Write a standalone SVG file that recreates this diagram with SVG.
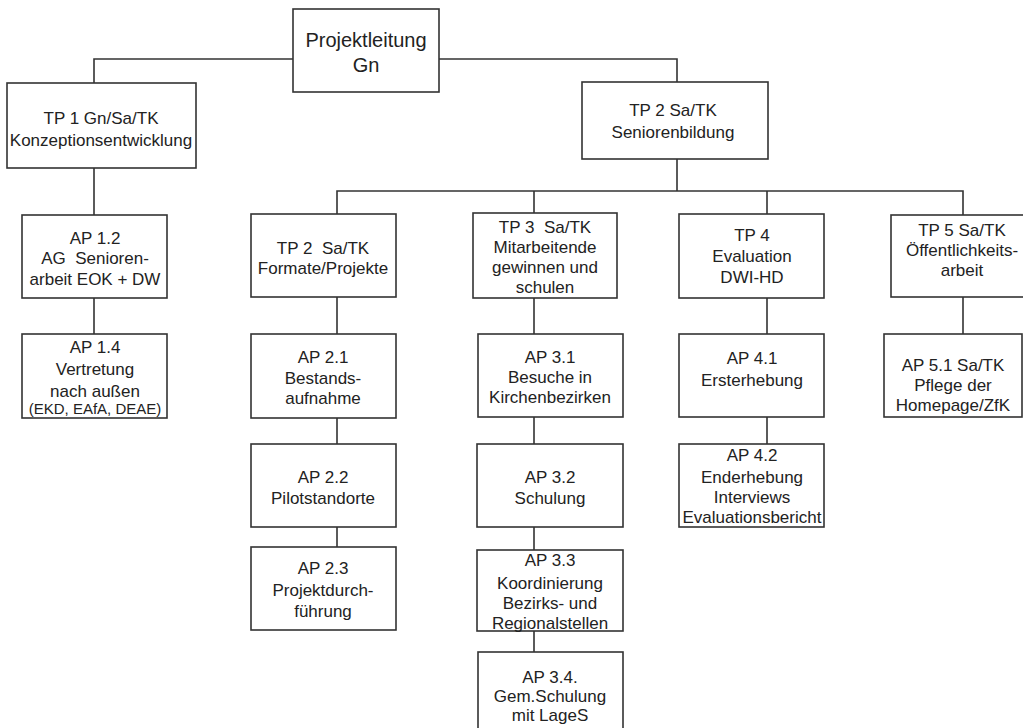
<svg xmlns="http://www.w3.org/2000/svg" width="1023" height="728" viewBox="0 0 1023 728">
<style>
.box{fill:#fff;stroke:#333;stroke-width:1.6}
.con{fill:none;stroke:#333;stroke-width:1.6}
text{font-family:"Liberation Sans",Arial,sans-serif;font-size:17px;fill:#222;text-anchor:middle}
.big{font-size:20px}
.sm{font-size:15px}
</style>
<rect width="1023" height="728" fill="#fff"/>
<g id="connectors">
<path class="con" d="M94,83V59H293M439,59H677V82"/>
<path class="con" d="M94,168V215M94,298V334"/>
<path class="con" d="M677,159V191M337,214V191H963V215M534,191V213M767,191V214"/>
<path class="con" d="M337,297V334M337,418V444M337,527V547"/>
<path class="con" d="M534,298V334M534,417V444M534,527V550M534,631V652"/>
<path class="con" d="M767,298V334M767,417V444"/>
<path class="con" d="M963,297V334"/>
</g>
<g id="projektleitung"><rect class="box" x="293" y="9" width="146" height="83"/>
<text class="big" x="366" y="47">Projektleitung</text><text class="big" x="366" y="72">Gn</text></g>
<g id="tp1"><rect class="box" x="7" y="83" width="189" height="85"/>
<text x="101" y="124">TP 1 Gn/Sa/TK</text><text x="101" y="146">Konzeptionsentwicklung</text></g>
<g id="tp2"><rect class="box" x="582" y="82" width="186" height="77"/>
<text x="673" y="116">TP 2 Sa/TK</text><text x="673" y="138">Seniorenbildung</text></g>
<g id="ap12"><rect class="box" x="22" y="215" width="145" height="83"/>
<text x="95" y="244">AP 1.2</text><text x="95" y="264" xml:space="preserve">AG  Senioren-</text><text x="95" y="285">arbeit EOK + DW</text></g>
<g id="ap14"><rect class="box" x="22" y="334" width="145" height="84"/>
<text x="95" y="353">AP 1.4</text><text x="95" y="375">Vertretung</text><text x="95" y="397">nach außen</text><text class="sm" x="95" y="414">(EKD, EAfA, DEAE)</text></g>
<g id="tp2f"><rect class="box" x="251" y="214" width="145" height="83"/>
<text x="323" y="254" xml:space="preserve">TP 2  Sa/TK</text><text x="323" y="274">Formate/Projekte</text></g>
<g id="ap21"><rect class="box" x="251" y="334" width="145" height="84"/>
<text x="323" y="363">AP 2.1</text><text x="323" y="384">Bestands-</text><text x="323" y="404">aufnahme</text></g>
<g id="ap22"><rect class="box" x="251" y="444" width="145" height="83"/>
<text x="323" y="483">AP 2.2</text><text x="323" y="504">Pilotstandorte</text></g>
<g id="ap23"><rect class="box" x="251" y="547" width="145" height="83"/>
<text x="323" y="574">AP 2.3</text><text x="323" y="596">Projektdurch-</text><text x="323" y="617">führung</text></g>
<g id="tp3"><rect class="box" x="473" y="213" width="144" height="85"/>
<text x="545" y="233" xml:space="preserve">TP 3  Sa/TK</text><text x="545" y="253">Mitarbeitende</text><text x="545" y="273">gewinnen und</text><text x="545" y="293">schulen</text></g>
<g id="ap31"><rect class="box" x="478" y="334" width="145" height="83"/>
<text x="550" y="363">AP 3.1</text><text x="550" y="383">Besuche in</text><text x="550" y="403">Kirchenbezirken</text></g>
<g id="ap32"><rect class="box" x="477" y="444" width="146" height="83"/>
<text x="550" y="483">AP 3.2</text><text x="550" y="504">Schulung</text></g>
<g id="ap33"><rect class="box" x="477" y="550" width="146" height="81"/>
<text x="550" y="566">AP 3.3</text><text x="550" y="589">Koordinierung</text><text x="550" y="609">Bezirks- und</text><text x="550" y="629">Regionalstellen</text></g>
<g id="ap34"><rect class="box" x="478" y="652" width="145" height="90"/>
<text x="550" y="683">AP 3.4.</text><text x="550" y="702">Gem.Schulung</text><text x="550" y="721">mit LageS</text></g>
<g id="tp4"><rect class="box" x="679" y="214" width="145" height="84"/>
<text x="752" y="241">TP 4</text><text x="752" y="262">Evaluation</text><text x="752" y="283">DWI-HD</text></g>
<g id="ap41"><rect class="box" x="679" y="334" width="145" height="83"/>
<text x="752" y="364">AP 4.1</text><text x="752" y="386">Ersterhebung</text></g>
<g id="ap42"><rect class="box" x="679" y="444" width="145" height="83"/>
<text x="752" y="461">AP 4.2</text><text x="752" y="483">Enderhebung</text><text x="752" y="503">Interviews</text><text x="752" y="523">Evaluationsbericht</text></g>
<g id="tp5"><rect class="box" x="891" y="215" width="142" height="82"/>
<text x="962" y="236">TP 5 Sa/TK</text><text x="962" y="256">Öffentlichkeits-</text><text x="962" y="276">arbeit</text></g>
<g id="ap51"><rect class="box" x="884" y="334" width="138" height="83"/>
<text x="953" y="371">AP 5.1 Sa/TK</text><text x="953" y="391">Pflege der</text><text x="953" y="411">Homepage/ZfK</text></g>
</svg>
